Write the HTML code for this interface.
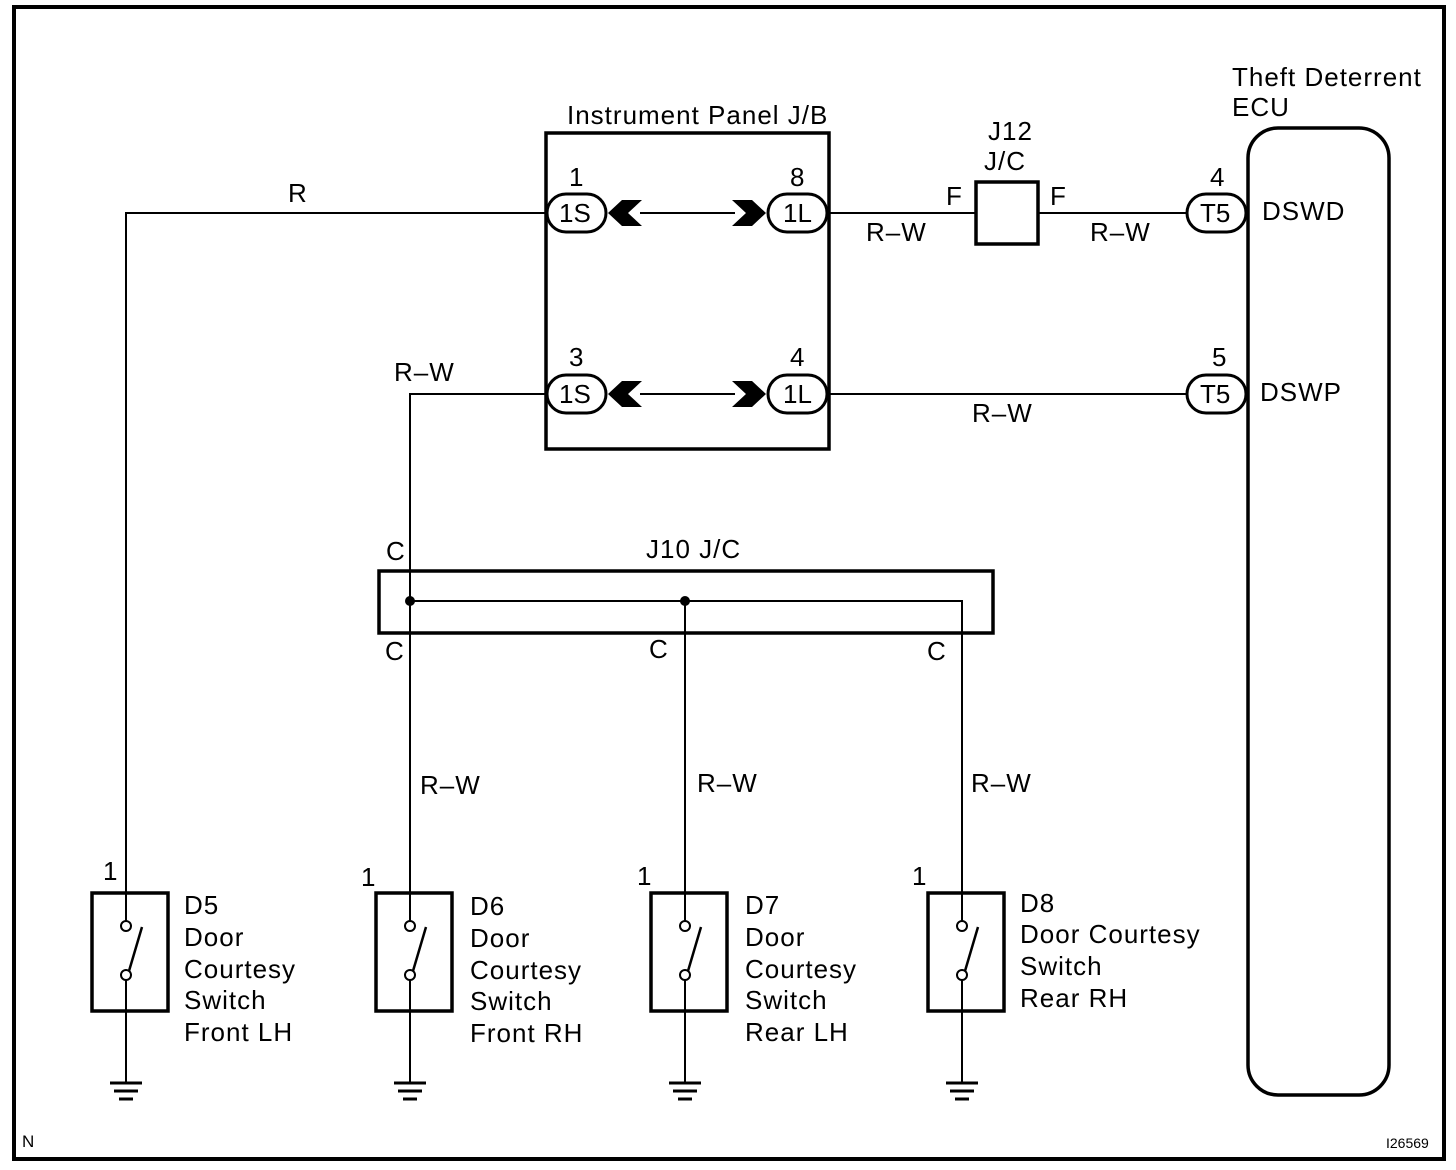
<!DOCTYPE html>
<html><head><meta charset="utf-8"><style>
html,body{margin:0;padding:0;background:#fff}
svg{display:block}
text{font-family:"Liberation Sans",Arial,sans-serif;font-size:26px;letter-spacing:1px;fill:#000}
</style></head><body>
<svg width="1456" height="1170" viewBox="0 0 1456 1170" xmlns="http://www.w3.org/2000/svg">
<rect x="14" y="7" width="1430" height="1152" fill="none" stroke="#000" stroke-width="4"/>
<g fill="none" stroke="#000" stroke-width="2">
<polyline points="126,892 126,213 547,213"/>
<polyline points="410,892 410,394 547,394"/>
<line x1="829" y1="213" x2="976" y2="213"/>
<line x1="1038" y1="213" x2="1187" y2="213"/>
<line x1="829" y1="394" x2="1187" y2="394"/>
<line x1="640" y1="213" x2="735" y2="213"/>
<line x1="640" y1="394" x2="735" y2="394"/>
<polyline points="410,601 962,601 962,892"/>
<line x1="685" y1="601" x2="685" y2="892"/>
</g>
<g fill="none" stroke="#000" stroke-width="3.5">
<rect x="546" y="133" width="283" height="316"/>
<rect x="976" y="182" width="62" height="62"/>
<rect x="379" y="571" width="614" height="62"/>
<rect x="1248" y="128" width="141" height="967" rx="30"/>
</g>
<g fill="#fff" stroke="#000" stroke-width="3">
<rect x="547" y="194" width="59" height="38" rx="19"/>
<rect x="768" y="194" width="59" height="38" rx="19"/>
<rect x="547" y="375" width="59" height="38" rx="19"/>
<rect x="768" y="375" width="59" height="38" rx="19"/>
<rect x="1187" y="194" width="59" height="38" rx="19"/>
<rect x="1187" y="375" width="59" height="38" rx="19"/>
</g>
<g fill="#000">
<polygon points="608,213 622,200 642,200 628,213 642,226 622,226"/>
<polygon points="766,213 752,200 732,200 746,213 732,226 752,226"/>
<polygon points="608,394 622,381 642,381 628,394 642,407 622,407"/>
<polygon points="766,394 752,381 732,381 746,394 732,407 752,407"/>
<circle cx="410" cy="601" r="5"/>
<circle cx="685" cy="601" r="5"/>
</g>
<g id="sw" fill="none" stroke="#000">
<rect x="92" y="893" width="76" height="118" stroke-width="3.5"/>
<line x1="126" y1="892" x2="126" y2="921" stroke-width="2"/>
<circle cx="126" cy="926" r="5" stroke-width="2"/>
<circle cx="126" cy="975" r="5" stroke-width="2"/>
<line x1="129" y1="971" x2="142" y2="927" stroke-width="2.5"/>
<line x1="126" y1="980" x2="126" y2="1083" stroke-width="2"/>
<line x1="110" y1="1083" x2="142" y2="1083" stroke-width="3"/>
<line x1="114" y1="1091" x2="138" y2="1091" stroke-width="3"/>
<line x1="119" y1="1099" x2="133" y2="1099" stroke-width="3"/>
</g>
<use href="#sw" x="284"/>
<use href="#sw" x="559"/>
<use href="#sw" x="836"/>
<text x="567" y="124">Instrument Panel J/B</text>
<text x="1232" y="86">Theft Deterrent</text>
<text x="1232" y="116">ECU</text>
<text x="988" y="140">J12</text>
<text x="984" y="170">J/C</text>
<text x="946" y="205">F</text>
<text x="1050" y="205">F</text>
<text x="288" y="202">R</text>
<text x="866" y="241">R–W</text>
<text x="1090" y="241">R–W</text>
<text x="394" y="381">R–W</text>
<text x="972" y="422">R–W</text>
<text x="569" y="186">1</text>
<text x="790" y="186">8</text>
<text x="569" y="366">3</text>
<text x="790" y="366">4</text>
<text x="1210" y="186">4</text>
<text x="1212" y="366">5</text>
<text x="559" y="222" style="letter-spacing:0">1S</text>
<text x="783" y="222" style="letter-spacing:0">1L</text>
<text x="559" y="403" style="letter-spacing:0">1S</text>
<text x="783" y="403" style="letter-spacing:0">1L</text>
<text x="1200" y="222" style="letter-spacing:0">T5</text>
<text x="1200" y="403" style="letter-spacing:0">T5</text>
<text x="1262" y="220">DSWD</text>
<text x="1260" y="401">DSWP</text>
<text x="646" y="558">J10 J/C</text>
<text x="386" y="560">C</text>
<text x="385" y="660">C</text>
<text x="649" y="658">C</text>
<text x="927" y="660">C</text>
<text x="420" y="794">R–W</text>
<text x="697" y="792">R–W</text>
<text x="971" y="792">R–W</text>
<text x="103" y="880">1</text>
<text x="361" y="886">1</text>
<text x="637" y="885">1</text>
<text x="912" y="885">1</text>
<text x="184" y="914">D5</text><text x="184" y="946">Door</text><text x="184" y="978">Courtesy</text><text x="184" y="1009">Switch</text><text x="184" y="1041">Front LH</text>
<text x="470" y="915">D6</text><text x="470" y="947">Door</text><text x="470" y="979">Courtesy</text><text x="470" y="1010">Switch</text><text x="470" y="1042">Front RH</text>
<text x="745" y="914">D7</text><text x="745" y="946">Door</text><text x="745" y="978">Courtesy</text><text x="745" y="1009">Switch</text><text x="745" y="1041">Rear LH</text>
<text x="1020" y="912">D8</text><text x="1020" y="943">Door Courtesy</text><text x="1020" y="975">Switch</text><text x="1020" y="1007">Rear RH</text>
<text x="22" y="1147" style="font-size:17px;letter-spacing:0">N</text>
<text x="1386" y="1148" style="font-size:14px;letter-spacing:0">I26569</text>
</svg>
</body></html>
